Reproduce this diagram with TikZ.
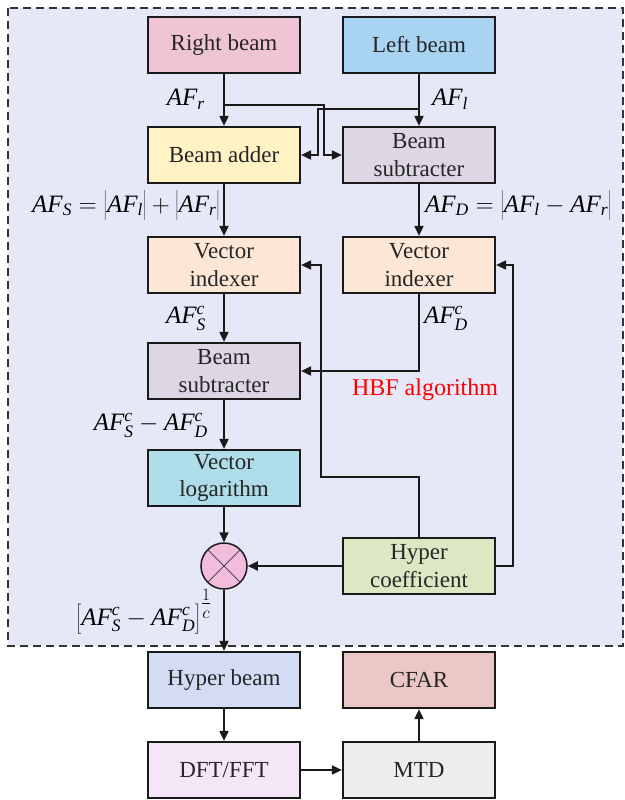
\documentclass[tikz,border=0pt]{standalone}
\usepackage{fontspec}
\setmainfont{Liberation Serif}
\usetikzlibrary{arrows.meta,calc}
\definecolor{bgc}{HTML}{E6E8F8}
\definecolor{crb}{HTML}{EFC4D4}
\definecolor{clb}{HTML}{A8D4F2}
\definecolor{cadd}{HTML}{FFF2C4}
\definecolor{csub}{HTML}{DDD6E4}
\definecolor{cvi}{HTML}{FCE6D6}
\definecolor{clog}{HTML}{AEDCE8}
\definecolor{chc}{HTML}{DCE8C4}
\definecolor{cmul}{HTML}{F4BCDC}
\definecolor{chb}{HTML}{D4DCF4}
\definecolor{ccfar}{HTML}{EBC8C6}
\definecolor{cdft}{HTML}{F4E6F6}
\definecolor{cmtd}{HTML}{EDEDED}
\definecolor{lc}{HTML}{1A1A1A}
\newcommand\AFx[1]{\mathit{AF}_{\mathit{#1}}}
\newcommand\AFc[1]{\mathit{AF}_{\mathit{#1}}^{\mathit{c}}}
\newcommand\tallstrut{\vphantom{\rule[-10pt]{0pt}{32pt}}}
\tikzset{
  blk/.style={draw=lc, line width=2.2pt, minimum width=152pt, minimum height=56pt, inner sep=0pt, align=center,
    font=\fontsize{23}{27.5}\selectfont, text=black!85},
  arr/.style={draw=lc, line width=1.8pt, -{Triangle[length=10pt,width=9pt]}},
  lbl/.style={font=\fontsize{25}{28}\selectfont, inner sep=0pt},
}
\begin{document}
\begin{tikzpicture}[x=1pt,y=-1pt]
\useasboundingbox (0,0) rectangle (624,800);
\fill[bgc] (8,8) rectangle (623,646);
\draw[gray!40!black, line width=1.2pt, dash pattern=on 8pt off 5pt] (8,8) rectangle (623,646);

\node[blk, fill=crb] (rb) at (224,45) {Right beam};
\node[blk, fill=clb] (lb) at (419,45) {Left beam};
\node[blk, fill=cadd] (add) at (224,155) {Beam adder};
\node[blk, fill=csub] (sub1) at (419,155) {Beam\\subtracter};
\node[blk, fill=cvi] (vi1) at (224,265) {Vector\\indexer};
\node[blk, fill=cvi] (vi2) at (419,265) {Vector\\indexer};
\node[blk, fill=csub] (sub2) at (224,371) {Beam\\subtracter};
\node[blk, fill=clog] (log) at (224,478) {Vector\\logarithm};
\node[draw=lc, line width=1.5pt, circle, fill=cmul, minimum size=46pt, inner sep=0pt] (mul) at (224,566) {};
\draw[lc!80, line width=1pt] (mul.45) -- (mul.225) (mul.135) -- (mul.315);
\node[blk, fill=chc] (hc) at (419,566) {Hyper\\coefficient};
\node[blk, fill=chb] (hb) at (224,680) {Hyper beam};
\node[blk, fill=ccfar] (cfar) at (419,680) {CFAR};
\node[blk, fill=cdft] (dft) at (224,770) {DFT/FFT};
\node[blk, fill=cmtd] (mtd) at (419,770) {MTD};

\node[font=\fontsize{24}{28}\selectfont, text=red] (hbf) at (425,390) {HBF algorithm};

\coordinate (jr) at (224,105);
\coordinate (jl) at (419,109);

\draw[arr] (rb.south) -- (add.north);
\draw[arr] (lb.south) -- (sub1.north);
\draw[arr] (jr) -| (324,155) -- (sub1.west);
\draw[arr] (jl) -| (318,155) -- (add.east);
\draw[arr] (add.south) -- (vi1.north);
\draw[arr] (sub1.south) -- (vi2.north);
\draw[arr] (vi1.south) -- (sub2.north);
\draw[arr] (vi2.south) |- (sub2.east);
\draw[arr] (sub2.south) -- (log.north);
\draw[arr] (log.south) -- (mul.north);
\draw[arr] (hc.west) -- (mul.east);
\draw[arr] (hc.north) |- (321,477) |- (vi1.east);
\draw[arr] (hc.east) -- (513,566) |- (vi2.east);
\draw[arr] (mul.south) -- (hb.north);
\draw[arr] (hb.south) -- (dft.north);
\draw[arr] (dft.east) -- (mtd.west);
\draw[arr] (mtd.north) -- (cfar.south);

\node[lbl, anchor=east] (lafr) at (205,99) {$\AFx{r}$};
\node[lbl, anchor=west] (lafl) at (432,99) {$\AFx{l}$};
\node[lbl, anchor=east] (lafs) at (220,206) {$\AFx{S}=\left|\tallstrut\AFx{l}\right|+\left|\tallstrut\AFx{r}\right|$};
\node[lbl, anchor=west] (lafd) at (425,206) {$\AFx{D}=\left|\tallstrut\AFx{l}-\AFx{r}\right|$};
\node[lbl, anchor=east] (lafsc) at (206,318) {$\AFc{S}$};
\node[lbl, anchor=west] (lafdc) at (424,318) {$\AFc{D}$};
\node[lbl, anchor=east] (ldiff) at (208,425) {$\AFc{S}-\AFc{D}$};
\node[lbl, anchor=east] (lpow) at (212,612) {$\left[\tallstrut\AFc{S}-\AFc{D}\right]^{\textstyle\frac{1}{c}}$};
\end{tikzpicture}
\end{document}
